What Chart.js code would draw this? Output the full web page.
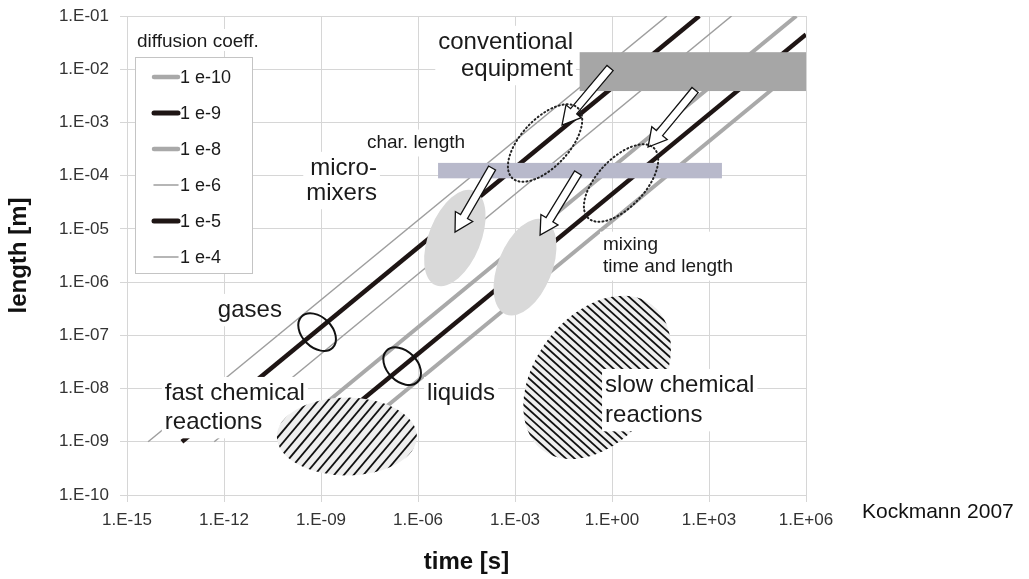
<!DOCTYPE html>
<html>
<head>
<meta charset="utf-8">
<script src="https://cdn.jsdelivr.net/npm/chart.js@4.4.1/dist/chart.umd.min.js"></script>
<style>
  body { margin: 0; background: #fff; }
  #wrap { width: 1029px; height: 579px; }
</style>
</head>
<body>
<div id="wrap"><canvas id="myChart" width="1029" height="579"></canvas></div>
<script>
const FONT = '"Liberation Sans", Arial, sans-serif';

// diffusion lines (m2/s), ends
const coeffLabels = ['1 e-10', '1 e-9', '1 e-8', '1 e-6', '1 e-5', '1 e-4'];
const startTime   = [5e-9, 5e-10, 5e-11, 5e-13, 5e-14, 4.5e-15];
const startLength = [1e-9, 1e-9, 1e-9, 1e-9, 1e-9, 1e-9];
const endTime     = [1e6, 1e6, 5e5, 5e3, 5e2, 5e1];
const endLength   = [1.4e-2, 4.5e-2, 1e-1, 1e-1, 1e-1, 1e-1];

const xTicks = [1e-15, 1e-12, 1e-9, 1e-6, 1e-3, 1e0, 1e3, 1e6];
const xTickLabels = ['1.E-15', '1.E-12', '1.E-09', '1.E-06', '1.E-03', '1.E+00', '1.E+03', '1.E+06'];
const yTicks = [1e-10, 1e-9, 1e-8, 1e-7, 1e-6, 1e-5, 1e-4, 1e-3, 1e-2, 1e-1];
const yTickLabels = ['1.E-10', '1.E-09', '1.E-08', '1.E-07', '1.E-06', '1.E-05', '1.E-04', '1.E-03', '1.E-02', '1.E-01'];

const lineStyles = [
    { color: '#a9a9a9', width: 4 },
    { color: '#1e1514', width: 4.5 },
    { color: '#a9a9a9', width: 4 },
    { color: '#9e9e9e', width: 1.5 },
    { color: '#1e1514', width: 4.5 },
    { color: '#9e9e9e', width: 1.5 },
];

// annotation layout, positions as log10 of [time, length]
const regions = [
    { t: [-1, 6], L: [-2.41, -1.68], color: '#a6a6a6' },          // conventional equipment
    { t: [-5.38, 3.4], L: [-4.05, -3.76], color: '#b8b9cb' },      // char. length
];
const mixerSpots = [
    { c: [-4.86, -5.17], a: 51, b: 26, rot: -68 },
    { c: [-2.69, -5.72], a: 51, b: 27, rot: -68 },
];
const hatched = [
    { c: [-8.2, -8.9], a: 70, b: 39, rot: 0, dir: -50, gap: 7.5 },     // fast chemical reactions
    { c: [-0.46, -7.79], a: 91, b: 62, rot: -53, dir: 42, gap: 5.8 },  // slow chemical reactions
];
const notes = [
    { text: ['conventional', 'equipment'], at: [-1.205, -1.489], align: 'right', size: 24, gap: 27 },
    { text: ['char. length'], at: [-7.58, -3.387], align: 'left', size: 19, gap: 0 },
    { text: ['micro-', 'mixers'], at: [-7.27, -3.857], align: 'right', size: 24, gap: 25 },
    { text: ['gases'], at: [-12.19, -6.526], align: 'left', size: 24, gap: 0 },
    { text: ['liquids'], at: [-5.72, -8.086], align: 'left', size: 24, gap: 0 },
    { text: ['fast chemical', 'reactions'], at: [-13.83, -8.086], align: 'left', size: 24, gap: 29, under: true },
    { text: ['slow chemical', 'reactions'], at: [-0.215, -7.936], align: 'left', size: 24, gap: 30 },
    { text: ['mixing', 'time and length'], at: [-0.277, -5.305], align: 'left', size: 19, gap: 22 },
];
const arrows = [
    { from: [-0.06, -1.977], to: [-1.545, -3.049] },
    { from: [2.569, -2.391], to: [1.115, -3.462] },
    { from: [-3.71, -3.857], to: [-4.855, -5.06] },
    { from: [-1.05, -3.951], to: [-2.225, -5.117] },
];
const dotted = [
    { c: [-2.07, -3.387], a: 48, b: 24, rot: -47 },
    { c: [0.28, -4.139], a: 48, b: 24, rot: -47 },
];
const rings = [
    { c: [-9.12, -6.94], a: 22, b: 15, rot: 45 },
    { c: [-6.49, -7.579], a: 22, b: 15, rot: 45 },
];

const datasets = coeffLabels.map((lab, i) => ({
    label: lab,
    data: [{ x: startTime[i], y: startLength[i] }, { x: endTime[i], y: endLength[i] }],
    showLine: true,
    borderColor: lineStyles[i].color,
    borderWidth: lineStyles[i].width,
    pointRadius: 0,
    fill: false,
}));

const rad = d => d * Math.PI / 180;

function noteBox(ctx, n, X, Y) {
    ctx.font = n.size + 'px ' + FONT;
    const x0 = X(n.at[0]), y0 = Y(n.at[1]);
    let minX = Infinity, maxX = -Infinity;
    n.text.forEach(s => {
        const w = ctx.measureText(s).width;
        const l = n.align === 'right' ? x0 - w : x0;
        minX = Math.min(minX, l); maxX = Math.max(maxX, l + w);
    });
    const top = y0 - n.size * 0.55 - 3;
    const bottom = y0 + n.gap * (n.text.length - 1) + n.size * 0.55 + 3;
    ctx.fillStyle = '#fff';
    ctx.fillRect(minX - 3, top, maxX - minX + 6, bottom - top);
}

function noteText(ctx, n, X, Y) {
    ctx.font = n.size + 'px ' + FONT;
    ctx.fillStyle = '#1a1a1a';
    ctx.textAlign = n.align;
    ctx.textBaseline = 'middle';
    n.text.forEach((s, k) => ctx.fillText(s, X(n.at[0]), Y(n.at[1]) + k * n.gap));
}

const overlay = {
    id: 'overlay',
    afterDatasetsDraw(chart) {
        const { ctx, chartArea: area, scales: { x, y } } = chart;
        const X = e => x.getPixelForValue(Math.pow(10, e));
        const Y = e => y.getPixelForValue(Math.pow(10, e));
        ctx.save();

        regions.forEach(r => {
            ctx.fillStyle = r.color;
            ctx.fillRect(X(r.t[0]), Y(r.L[1]), X(r.t[1]) - X(r.t[0]), Y(r.L[0]) - Y(r.L[1]));
        });

        ctx.fillStyle = '#d9d9d9';
        mixerSpots.forEach(e => {
            ctx.beginPath();
            ctx.ellipse(X(e.c[0]), Y(e.c[1]), e.a, e.b, rad(e.rot), 0, Math.PI * 2);
            ctx.fill();
        });

        notes.filter(n => n.under).forEach(n => noteBox(ctx, n, X, Y));

        hatched.forEach(h => {
            const cx = X(h.c[0]), cy = Y(h.c[1]);
            ctx.save();
            ctx.beginPath();
            ctx.ellipse(cx, cy, h.a, h.b, rad(h.rot), 0, Math.PI * 2);
            ctx.fillStyle = '#efefef';
            ctx.fill();
            ctx.clip();
            const dx = Math.cos(rad(h.dir)), dy = Math.sin(rad(h.dir));
            ctx.strokeStyle = '#111';
            ctx.lineWidth = 1.8;
            for (let k = -30; k <= 30; k++) {
                const ox = cx - dy * k * h.gap, oy = cy + dx * k * h.gap;
                ctx.beginPath();
                ctx.moveTo(ox - dx * 200, oy - dy * 200);
                ctx.lineTo(ox + dx * 200, oy + dy * 200);
                ctx.stroke();
            }
            ctx.restore();
        });

        notes.filter(n => !n.under).forEach(n => noteBox(ctx, n, X, Y));
        notes.forEach(n => noteText(ctx, n, X, Y));

        arrows.forEach(a => {
            const x0 = X(a.from[0]), y0 = Y(a.from[1]);
            const x1 = X(a.to[0]), y1 = Y(a.to[1]);
            const len = Math.hypot(x1 - x0, y1 - y0);
            ctx.save();
            ctx.translate(x0, y0);
            ctx.rotate(Math.atan2(y1 - y0, x1 - x0));
            ctx.beginPath();
            ctx.moveTo(0, -4); ctx.lineTo(len - 18, -4); ctx.lineTo(len - 18, -10);
            ctx.lineTo(len, 0);
            ctx.lineTo(len - 18, 10); ctx.lineTo(len - 18, 4); ctx.lineTo(0, 4);
            ctx.closePath();
            ctx.fillStyle = '#fff';
            ctx.fill();
            ctx.strokeStyle = '#111';
            ctx.lineWidth = 1.3;
            ctx.lineJoin = 'miter';
            ctx.stroke();
            ctx.restore();
        });

        ctx.strokeStyle = '#222';
        ctx.lineWidth = 2;
        ctx.setLineDash([1, 3]);
        ctx.lineCap = 'round';
        dotted.forEach(e => {
            ctx.beginPath();
            ctx.ellipse(X(e.c[0]), Y(e.c[1]), e.a, e.b, rad(e.rot), 0, Math.PI * 2);
            ctx.stroke();
        });
        ctx.setLineDash([]);
        ctx.lineCap = 'butt';
        ctx.strokeStyle = '#111';
        ctx.lineWidth = 2;
        rings.forEach(e => {
            ctx.beginPath();
            ctx.ellipse(X(e.c[0]), Y(e.c[1]), e.a, e.b, rad(e.rot), 0, Math.PI * 2);
            ctx.stroke();
        });

        // legend
        const lx = area.left + 8, ly = area.top + 41;
        ctx.font = '19px ' + FONT;
        ctx.textAlign = 'left';
        ctx.textBaseline = 'middle';
        const tw = ctx.measureText('diffusion coeff.').width;
        ctx.fillStyle = '#fff';
        ctx.fillRect(lx, ly - 28, tw + 6, 22);
        ctx.fillStyle = '#1a1a1a';
        ctx.fillText('diffusion coeff.', lx + 2, ly - 15);
        ctx.fillStyle = '#fff';
        ctx.fillRect(lx, ly, 117, 216);
        ctx.strokeStyle = '#c4c4c4';
        ctx.lineWidth = 1;
        ctx.strokeRect(lx + 0.5, ly + 0.5, 117, 216);
        ctx.font = '18px ' + FONT;
        chart.data.datasets.forEach((ds, i) => {
            const yy = ly + 20 + i * 36;
            ctx.strokeStyle = ds.borderColor;
            ctx.lineWidth = ds.borderWidth + (ds.borderWidth > 2 ? 0.5 : 0);
            ctx.lineCap = 'round';
            ctx.beginPath();
            ctx.moveTo(lx + 19, yy);
            ctx.lineTo(lx + 43, yy);
            ctx.stroke();
            ctx.fillStyle = '#1a1a1a';
            ctx.fillText(ds.label, lx + 45, yy + 1);
        });

        // source note
        ctx.font = '21px ' + FONT;
        ctx.fillStyle = '#111';
        ctx.fillText('Kockmann 2007', area.right + 56, area.bottom + 17);
        ctx.restore();
    }
};

const gridColor = '#d6d6d6';
const tickFont = { family: FONT, size: 17 };

new Chart(document.getElementById('myChart').getContext('2d'), {
    type: 'scatter',
    data: { datasets: datasets },
    options: {
        responsive: false,
        animation: false,
        events: [],
        layout: { padding: { left: 0, right: 223, top: 16, bottom: 0 } },
        plugins: { legend: { display: false }, tooltip: { enabled: false } },
        scales: {
            x: {
                type: 'logarithmic',
                min: 1e-15,
                max: 1e6,
                afterBuildTicks: s => { s.ticks = xTicks.map(v => ({ value: v })); },
                afterFit: s => { s.height = 84; },
                ticks: {
                    callback: (v, i) => xTickLabels[i],
                    font: tickFont, color: '#333', padding: 8,
                    autoSkip: false, maxRotation: 0,
                },
                grid: { color: gridColor, tickLength: 7 },
                border: { color: gridColor },
                title: {
                    display: true, text: 'time [s]', color: '#111',
                    font: { family: FONT, size: 24, weight: 'bold' },
                    padding: { top: 0, bottom: 2 },
                },
            },
            y: {
                type: 'logarithmic',
                min: 1e-10,
                max: 1e-1,
                afterBuildTicks: s => { s.ticks = yTicks.map(v => ({ value: v })); },
                afterFit: s => { s.width = 127; s.paddingTop = 0; s.paddingBottom = 0; },
                ticks: {
                    callback: (v, i) => yTickLabels[i],
                    font: tickFont, color: '#333', padding: 11,
                    autoSkip: false,
                },
                grid: { color: gridColor, tickLength: 7 },
                border: { color: gridColor },
                title: {
                    display: true, text: 'length [m]', color: '#111',
                    font: { family: FONT, size: 24, weight: 'bold' },
                    padding: { top: 5, bottom: 0 },
                },
            },
        },
    },
    plugins: [overlay],
});
</script>
</body>
</html>
